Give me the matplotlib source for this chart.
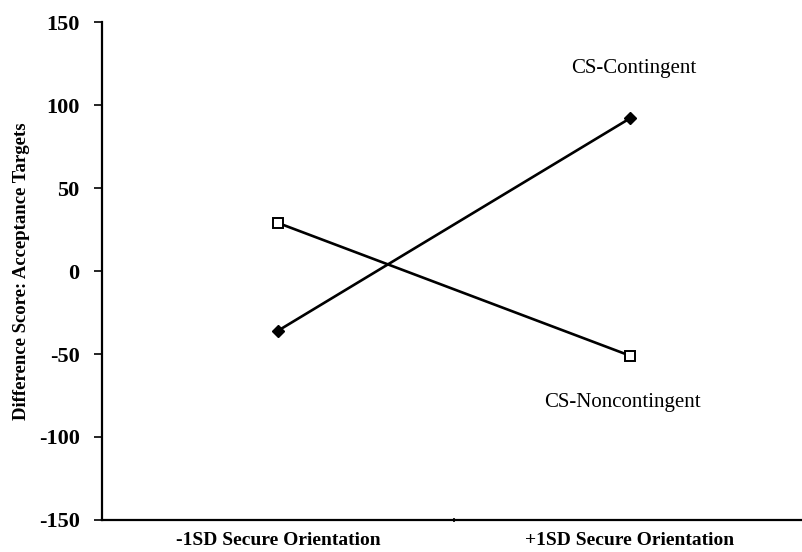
import numpy as np
import matplotlib
matplotlib.use('Agg')
import matplotlib.pyplot as plt

# x categories and the two regression lines
groups = ['-1SD Secure Orientation', '+1SD Secure Orientation']
contingent = [-36, 92]
noncontingent = [29, -51]
yticks = [-150, -100, -50, 0, 50, 100, 150]

plt.rcParams['font.family'] = ['Liberation Serif', 'DejaVu Serif']

fig = plt.figure(figsize=(8.02, 5.52), dpi=100)
ax = fig.add_axes([0.127, 0.058, 0.878, 0.902])

x = np.arange(len(groups))
ax.plot(x, contingent, 'k-', lw=1.9, marker='D', ms=6, mfc='k', mec='k')
ax.plot(x, noncontingent, 'k-', lw=1.9, marker='s', ms=6.5, mfc='white', mec='k', mew=1.4)

ax.text(1.01, 122, 'CS-Contingent', ha='center', va='center', fontsize=15)
ax.text(0.98, -79, 'CS-Noncontingent', ha='center', va='center', fontsize=15)

ax.set_xlim(-0.5, 1.5)
ax.set_ylim(-150, 150)
ax.set_yticks(yticks)
ax.set_yticklabels([str(v) for v in yticks], fontsize=16, fontweight='bold')
ax.set_xticks(x)
ax.set_xticklabels(groups, fontsize=14, fontweight='bold')
ax.set_xticks([0.5], minor=True)
ax.tick_params(axis='x', which='major', length=0, pad=9)
ax.tick_params(axis='x', which='minor', length=3, width=1.2, direction='inout')
ax.tick_params(axis='y', length=6, width=1.2, pad=10)

ax.set_ylabel('Difference Score: Acceptance Targets', fontsize=13.5, fontweight='bold', labelpad=6)

for side in ['top', 'right']:
    ax.spines[side].set_visible(False)
for side in ['left', 'bottom']:
    ax.spines[side].set_linewidth(1.6)

fig.savefig('out.png', dpi=100)
